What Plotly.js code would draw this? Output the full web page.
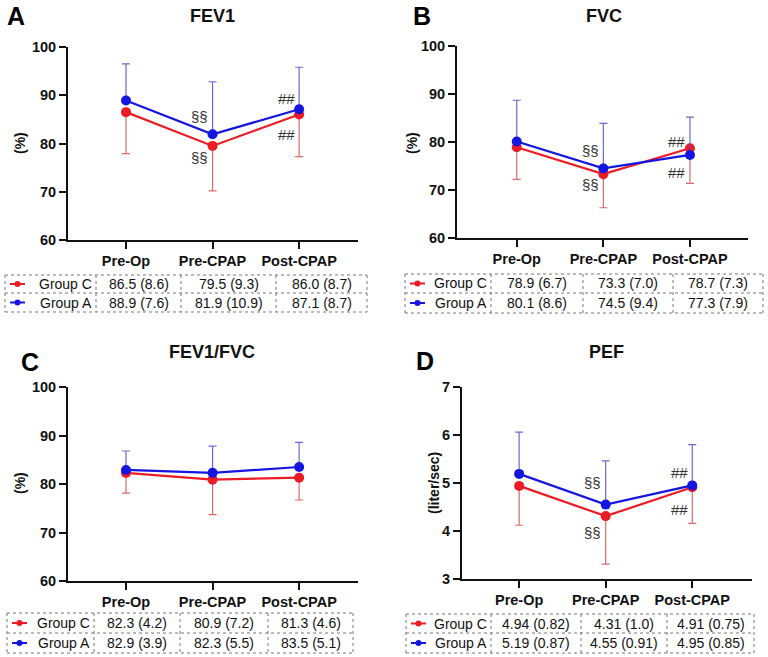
<!DOCTYPE html>
<html>
<head>
<meta charset="utf-8">
<script src="https://cdn.plot.ly/plotly-3.0.1.min.js"></script>
<style>html,body{margin:0;padding:0;background:#fff;}#chart{width:768px;height:657px;}</style>
</head>
<body>
<div id="chart"></div>
<script>
// ---- data ----
const categories = ['Pre-Op', 'Pre-CPAP', 'Post-CPAP'];
const groupNames = ['Group C', 'Group A'];

const fev1C = [86.5, 79.5, 86.0];
const fev1CSd = [8.6, 9.3, 8.7];
const fev1A = [88.9, 81.9, 87.1];
const fev1ASd = [7.6, 10.9, 8.7];

const fvcC = [78.9, 73.3, 78.7];
const fvcCSd = [6.7, 7.0, 7.3];
const fvcA = [80.1, 74.5, 77.3];
const fvcASd = [8.6, 9.4, 7.9];

const ratioC = [82.3, 80.9, 81.3];
const ratioCSd = [4.2, 7.2, 4.6];
const ratioA = [82.9, 82.3, 83.5];
const ratioASd = [3.9, 5.5, 5.1];

const pefC = [4.94, 4.31, 4.91];
const pefCSd = [0.82, 1.0, 0.75];
const pefA = [5.19, 4.55, 4.95];
const pefASd = [0.87, 0.91, 0.85];

const W = 768, H = 657;
const X = p => p / W;
const Y = p => 1 - p / H;

const RED = '#ec1c24';
const BLUE = '#1515e0';
const RED_ERR = 'rgba(210,80,80,0.85)';
const BLUE_ERR = 'rgba(80,80,195,0.85)';
const FONT = 'Liberation Sans, Arial, sans-serif';

const panels = [
  {letter: 'A', title: 'FEV1', ytitle: '(%)', c: fev1C, cs: fev1CSd, a: fev1A, as: fev1ASd,
   xd: [68, 358], xr: [-0.67, 2.68], yd: [240, 47], yr: [60, 100], dt: 10,
   letterPos: [16, 16], titlePos: [212, 16], ytPos: [20, 143],
   table: {cols: [5, 96, 181, 276, 367], rows: [275, 293, 312]},
   marks: [[1, 'a', '§§', 18], [1, 'c', '§§', -12], [2, 'a', '##', 11], [2, 'c', '##', -20]]},
  {letter: 'B', title: 'FVC', ytitle: '(%)', c: fvcC, cs: fvcCSd, a: fvcA, as: fvcASd,
   xd: [457, 748], xr: [-0.69, 2.67], yd: [238, 46], yr: [60, 100], dt: 10,
   letterPos: [422, 16], titlePos: [604, 16], ytPos: [412, 143],
   table: {cols: [405, 491, 583, 673, 763], rows: [274, 293, 313]},
   marks: [[1, 'a', '§§', 18], [1, 'c', '§§', -10], [2, 'c', '##', 7], [2, 'a', '##', -18]]},
  {letter: 'C', title: 'FEV1/FVC', ytitle: '(%)', c: ratioC, cs: ratioCSd, a: ratioA, as: ratioASd,
   xd: [68, 358], xr: [-0.67, 2.68], yd: [581, 387], yr: [60, 100], dt: 10,
   letterPos: [30, 362], titlePos: [212, 352], ytPos: [20, 483],
   table: {cols: [7, 94, 180, 268, 353], rows: [613, 633, 653]},
   marks: []},
  {letter: 'D', title: 'PEF', ytitle: '(liter/sec)', c: pefC, cs: pefCSd, a: pefA, as: pefASd,
   xd: [462, 752], xr: [-0.66, 2.69], yd: [579, 387], yr: [3, 7], dt: 1,
   letterPos: [425, 361], titlePos: [606, 352], ytPos: [434, 483],
   table: {cols: [406, 491, 581, 667, 754], rows: [614, 633, 653]},
   marks: [[1, 'a', '§§', 22], [1, 'c', '§§', -16], [2, 'a', '##', 13], [2, 'c', '##', -22]]}
];

function fmt(v) {
  return Number.isInteger(v) ? v.toFixed(1) : String(v);
}

const traces = [];
const annotations = [];
const shapes = [];
const layout = {
  width: W, height: H,
  margin: {l: 0, r: 0, t: 0, b: 0},
  paper_bgcolor: '#fff', plot_bgcolor: '#fff',
  showlegend: false,
  font: {family: FONT, color: '#111'}
};

panels.forEach((p, i) => {
  const n = i + 1;
  const xa = n === 1 ? 'x' : 'x' + n;
  const ya = n === 1 ? 'y' : 'y' + n;
  const xkey = n === 1 ? 'xaxis' : 'xaxis' + n;
  const ykey = n === 1 ? 'yaxis' : 'yaxis' + n;

  layout[xkey] = {
    domain: [X(p.xd[0]), X(p.xd[1])], range: p.xr, type: 'category',
    categoryorder: 'array', categoryarray: categories,
    anchor: ya, showline: true, linewidth: 2, linecolor: '#111',
    ticks: 'outside', ticklen: 7, tickwidth: 2, tickcolor: '#111',
    showgrid: false, zeroline: false, fixedrange: true,
    tickfont: {family: FONT, size: 14.5, weight: 'bold', color: '#111'}
  };
  layout[ykey] = {
    domain: [Y(p.yd[0]), Y(p.yd[1])], range: p.yr, dtick: p.dt, tick0: p.yr[0],
    anchor: xa, showline: true, linewidth: 2, linecolor: '#111',
    ticks: 'outside', ticklen: 7, tickwidth: 2, tickcolor: '#111',
    showgrid: false, zeroline: false, fixedrange: true,
    tickfont: {family: FONT, size: 14.5, weight: 'bold', color: '#111'}
  };

  const zeros = p.c.map(() => 0);
  traces.push({
    type: 'scatter', mode: 'lines+markers', x: categories, y: p.c, xaxis: xa, yaxis: ya,
    line: {color: RED, width: 2.2}, marker: {color: RED, size: 10},
    error_y: {type: 'data', symmetric: false, array: zeros, arrayminus: p.cs,
              color: RED_ERR, thickness: 1.2, width: 4},
    cliponaxis: false
  });
  traces.push({
    type: 'scatter', mode: 'lines+markers', x: categories, y: p.a, xaxis: xa, yaxis: ya,
    line: {color: BLUE, width: 2.2}, marker: {color: BLUE, size: 10},
    error_y: {type: 'data', symmetric: false, array: p.as, arrayminus: zeros,
              color: BLUE_ERR, thickness: 1.2, width: 4},
    cliponaxis: false
  });

  // panel letter, title, y-axis title
  annotations.push({xref: 'paper', yref: 'paper', x: X(p.letterPos[0]), y: Y(p.letterPos[1]),
    text: p.letter, showarrow: false, xanchor: 'center', yanchor: 'middle',
    font: {family: FONT, size: 25, weight: 'bold', color: '#000'}});
  annotations.push({xref: 'paper', yref: 'paper', x: X(p.titlePos[0]), y: Y(p.titlePos[1]),
    text: p.title, showarrow: false, xanchor: 'center', yanchor: 'middle',
    font: {family: FONT, size: 18, weight: 'bold', color: '#111'}});
  annotations.push({xref: 'paper', yref: 'paper', x: X(p.ytPos[0]), y: Y(p.ytPos[1]),
    text: p.ytitle, showarrow: false, xanchor: 'center', yanchor: 'middle', textangle: -90,
    font: {family: FONT, size: 14, weight: 'bold', color: '#111'}});

  // significance marks
  p.marks.forEach(m => {
    const vals = m[1] === 'a' ? p.a : p.c;
    annotations.push({xref: xa, yref: ya, x: categories[m[0]], y: vals[m[0]],
      text: m[2], showarrow: false, xanchor: 'center', yanchor: 'middle',
      xshift: -13, yshift: m[3],
      font: {family: FONT, size: 15, color: '#333'}});
  });

  // table
  const t = p.table;
  const dotted = {color: '#777', width: 1, dash: 'dot'};
  t.rows.forEach(r => {
    shapes.push({type: 'line', xref: 'paper', yref: 'paper',
      x0: X(t.cols[0]), x1: X(t.cols[t.cols.length - 1]), y0: Y(r), y1: Y(r), line: dotted});
  });
  t.cols.forEach(c => {
    shapes.push({type: 'line', xref: 'paper', yref: 'paper',
      x0: X(c), x1: X(c), y0: Y(t.rows[0]), y1: Y(t.rows[t.rows.length - 1]), line: dotted});
  });
  const rowData = [[p.c, p.cs, RED], [p.a, p.as, BLUE]];
  rowData.forEach((rd, ri) => {
    const yc = (t.rows[ri] + t.rows[ri + 1]) / 2;
    const x0 = t.cols[0];
    // legend swatch
    shapes.push({type: 'line', xref: 'paper', yref: 'paper',
      x0: X(x0 + 5), x1: X(x0 + 20), y0: Y(yc), y1: Y(yc), line: {color: rd[2], width: 2}});
    shapes.push({type: 'circle', xref: 'paper', yref: 'paper',
      x0: X(x0 + 9.5), x1: X(x0 + 15.5), y0: Y(yc - 3), y1: Y(yc + 3),
      fillcolor: rd[2], line: {color: rd[2], width: 0}});
    annotations.push({xref: 'paper', yref: 'paper', x: X(t.cols[1] - 2), y: Y(yc),
      text: groupNames[ri], showarrow: false, xanchor: 'right', yanchor: 'middle',
      font: {family: FONT, size: 14, color: '#111'}});
    rd[0].forEach((v, k) => {
      const xc = (t.cols[k + 1] + t.cols[k + 2]) / 2;
      annotations.push({xref: 'paper', yref: 'paper', x: X(xc), y: Y(yc),
        text: fmt(v) + ' (' + fmt(rd[1][k]) + ')', showarrow: false,
        xanchor: 'center', yanchor: 'middle',
        font: {family: FONT, size: 14, color: '#111'}});
    });
  });
});

layout.annotations = annotations;
layout.shapes = shapes;

Plotly.newPlot('chart', traces, layout, {staticPlot: true, displayModeBar: false});
</script>
</body>
</html>
